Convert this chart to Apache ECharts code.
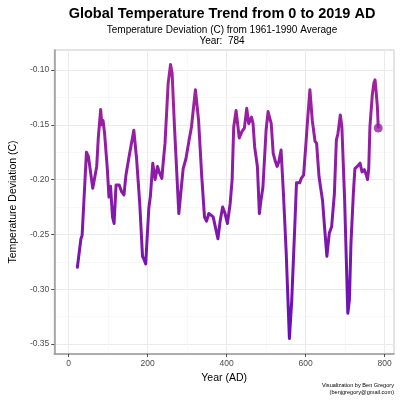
<!DOCTYPE html>
<html>
<head>
<meta charset="utf-8">
<script src="https://cdn.jsdelivr.net/npm/echarts@6/dist/echarts.min.js"></script>
<style>html,body{margin:0;padding:0;background:#fff}#c{width:400px;height:400px}</style>
</head>
<body>
<div id="c"></div>
<script>
const years = [22,31,34,45,50,61,65,71,75,81,84,87,91,98,102,106,111,115,120,128,134,140,145,153,165,172,180,187,191,195,203,207,213,219,225,230,236,240,244,252,258,262,268,279,284,290,297,305,311,321,329,337,344,349,355,366,372,378,384,390,396,402,409,414,418,424,429,432,439,445,451,456,463,467,471,478,483,487,492,500,505,513,518,524,528,532,538,544,551,559,565,573,577,585,589,595,601,605,611,617,624,628,634,638,643,648,654,660,666,673,678,682,688,692,699,707,711,715,721,725,731,738,743,749,754,757,760,763,769,773,776,779,782,784];
const deviations = [-0.280,-0.254,-0.251,-0.175,-0.179,-0.208,-0.208,-0.188,-0.162,-0.136,-0.150,-0.146,-0.158,-0.191,-0.216,-0.206,-0.234,-0.240,-0.205,-0.205,-0.211,-0.214,-0.196,-0.179,-0.155,-0.181,-0.222,-0.270,-0.273,-0.277,-0.226,-0.215,-0.185,-0.200,-0.188,-0.194,-0.199,-0.182,-0.167,-0.112,-0.095,-0.103,-0.152,-0.231,-0.212,-0.190,-0.181,-0.164,-0.152,-0.118,-0.146,-0.197,-0.234,-0.238,-0.231,-0.234,-0.244,-0.254,-0.237,-0.225,-0.231,-0.240,-0.222,-0.200,-0.152,-0.137,-0.137,-0.162,-0.156,-0.153,-0.135,-0.149,-0.143,-0.149,-0.170,-0.188,-0.231,-0.219,-0.207,-0.155,-0.138,-0.149,-0.176,-0.184,-0.188,-0.184,-0.173,-0.213,-0.267,-0.345,-0.310,-0.240,-0.203,-0.203,-0.199,-0.196,-0.167,-0.146,-0.118,-0.146,-0.165,-0.167,-0.197,-0.207,-0.219,-0.243,-0.270,-0.249,-0.243,-0.213,-0.164,-0.158,-0.141,-0.152,-0.219,-0.322,-0.310,-0.258,-0.213,-0.190,-0.188,-0.185,-0.193,-0.191,-0.196,-0.200,-0.190,-0.152,-0.123,-0.112,-0.109,-0.121,-0.134,-0.152];
const currentYear = 784;
const currentValue = -0.153;
const xTicks = [0,200,400,600,800];
const xMinor = [100,300,500,700];
const yTicks = [-0.35,-0.30,-0.25,-0.20,-0.15,-0.10];
const yMinor = [-0.325,-0.275,-0.225,-0.175,-0.125];

const FONT = 'Liberation Sans, Arial, sans-serif';
const lineData = years.map((y,i)=>[y, deviations[i]]);
const X0 = -36.5, X1 = 824, Y0 = -0.3591, Y1 = -0.0818;

function xAxisBase(custom, showLabel, lineColor, isMain){
  return {
    type:'value', min:X0, max:X1, position:'bottom',
    axisLine:{show:isMain, onZero:false, lineStyle:{color:'#9a9a9a', width:1.5}},
    axisTick:{show:isMain, customValues:custom, length:3, lineStyle:{color:'#4d4d4d', width:1}},
    axisLabel:{show:showLabel, customValues:custom, color:'#4d4d4d', fontSize:8.5, fontFamily:FONT, margin:5},
    splitLine:{show:true, lineStyle:{color:lineColor, width:isMain?1:0.6}},
    name: isMain ? 'Year (AD)' : '', nameLocation:'middle', nameGap:14,
    nameTextStyle:{color:'#000', fontSize:10.5, fontFamily:FONT}
  };
}
function yAxisBase(custom, showLabel, lineColor, isMain){
  return {
    type:'value', min:Y0, max:Y1, position:'left',
    axisLine:{show:isMain, onZero:false, lineStyle:{color:'#9a9a9a', width:1.5}},
    axisTick:{show:isMain, customValues:custom, length:3, lineStyle:{color:'#4d4d4d', width:1}},
    axisLabel:{show:showLabel, customValues:custom, color:'#4d4d4d', fontSize:8.5, fontFamily:FONT, margin:5,
      formatter:v=>v.toFixed(2)},
    splitLine:{show:true, lineStyle:{color:lineColor, width:isMain?1:0.6}},
    name: isMain ? 'Temperature Deviation (C)' : '', nameLocation:'middle', nameGap:30, nameRotate:90,
    nameTextStyle:{color:'#000', fontSize:10.5, fontFamily:FONT}
  };
}

const chart = echarts.init(document.getElementById('c'), null, {renderer:'canvas'});
chart.setOption({
  animation:false,
  backgroundColor:'#fff',
  title:[
    {text:'Global Temperature Trend from 0 to 2019 AD', left:217, top:1, textAlign:'center',
     textStyle:{fontSize:14.5, fontWeight:'bold', color:'#000', fontFamily:FONT}},
    {text:'Temperature Deviation (C) from 1961-1990 Average\nYear:  ' + currentYear, left:217, top:19, textAlign:'center',
     textStyle:{fontSize:10, lineHeight:11.5, fontWeight:'normal', color:'#000', fontFamily:FONT}}
  ],
  grid:{left:40, right:6, top:50, bottom:46, show:true, borderColor:'#c8c8c8', borderWidth:1, backgroundColor:'#fff'},
  xAxis:[ xAxisBase(xTicks, true, '#ebebeb', true), xAxisBase(xMinor, false, '#f3f3f3', false) ],
  yAxis:[ yAxisBase(yTicks, true, '#ebebeb', true), yAxisBase(yMinor, false, '#f3f3f3', false) ],
  visualMap:{show:false, type:'continuous', dimension:1, min:-0.345, max:-0.095,
    inRange:{color:['#6510b8','#a6239c']}},
  series:[
    {type:'line', data:lineData, showSymbol:false, symbol:'none', xAxisIndex:0, yAxisIndex:0,
     lineStyle:{width:3, join:'round', cap:'round'}},
    {type:'scatter', data:[[currentYear, currentValue]], symbolSize:9, xAxisIndex:0, yAxisIndex:0}
  ],
  graphic:[
    {type:'text', right:6, top:382, style:{text:'Visualization by Ben Gregory', fontSize:5.6, fill:'#000', fontFamily:FONT, textAlign:'right'}},
    {type:'text', right:6, top:389, style:{text:'(benjgregory@gmail.com)', fontSize:5.6, fill:'#000', fontFamily:FONT, textAlign:'right'}}
  ]
});
</script>
</body>
</html>
